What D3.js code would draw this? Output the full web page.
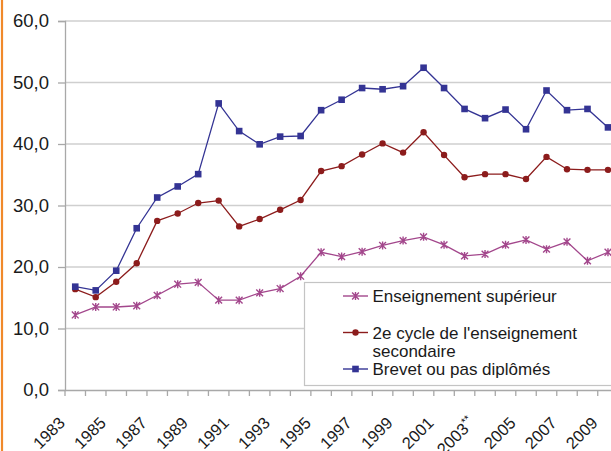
<!DOCTYPE html>
<html><head><meta charset="utf-8">
<script src="https://cdn.jsdelivr.net/npm/d3@7/dist/d3.min.js"></script>
<style>
html,body{margin:0;padding:0;background:#fff;}
svg{display:block;font-family:"Liberation Sans",Arial,sans-serif;}
</style></head><body>
<svg id="c" width="611" height="451"></svg>
<script>
const years = d3.range(1983, 2011);
const dataYears = d3.range(1983, 2010);
const superieur = [12.2,13.5,13.5,13.7,15.4,17.2,17.5,14.6,14.6,15.8,16.5,18.5,22.4,21.7,22.5,23.5,24.3,24.9,23.6,21.8,22.1,23.6,24.4,22.9,24.1,21.0,22.4];
const secondaire = [16.4,15.1,17.6,20.6,27.5,28.7,30.4,30.8,26.6,27.8,29.3,30.9,35.6,36.4,38.3,40.1,38.6,41.9,38.2,34.6,35.1,35.1,34.3,37.9,35.9,35.8,35.8];
const brevet = [16.8,16.2,19.4,26.3,31.3,33.1,35.1,46.6,42.1,39.95,41.2,41.3,45.5,47.2,49.1,48.9,49.4,52.4,49.1,45.7,44.2,45.6,42.4,48.7,45.5,45.7,42.7];
const yTicks = [0,10,20,30,40,50,60];
const labelYears = [1983,1985,1987,1989,1991,1993,1995,1997,1999,2001,2003,2005,2007,2009];
const yearLabel = {2003: "2003**"};
const seriesNames = ["Enseignement supérieur", "2e cycle de l'enseignement|secondaire", "Brevet ou pas diplômés"];

const svg = d3.select("#c");
const x = d3.scaleBand().domain(years).range([65, 65 + 28*20.49]).padding(0);
const y = d3.scaleLinear().domain([0,60]).range([390,21]);
const fmt = v => d3.format(".1f")(v).replace(".", ",");

// orange left border
svg.append("line").attr("x1",2).attr("x2",2).attr("y1",0).attr("y2",451)
  .attr("stroke","#f0892a").attr("stroke-width",2.2);

// grid
svg.append("g").selectAll("line").data(yTicks.filter(d=>d>0)).join("line")
  .attr("x1",65).attr("x2",611).attr("y1",d=>y(d)).attr("y2",d=>y(d))
  .attr("stroke","#cfcfcf").attr("stroke-width",1.3);

// y axis
const yAxis = d3.axisLeft(y).tickValues(yTicks).tickSize(7).tickFormat(fmt).tickPadding(9);
const gy = svg.append("g").attr("transform","translate(65,0)").call(yAxis);
gy.select(".domain").attr("stroke","#a8a8a8").attr("stroke-width",1.3);
gy.selectAll(".tick line").attr("stroke","#a8a8a8").attr("stroke-width",1.3);
gy.selectAll(".tick text").attr("font-size",18.5).attr("fill","#1a1a1a").attr("font-family","Liberation Sans, Arial, sans-serif");

// x axis
const xAxis = d3.axisBottom(x).tickSize(0).tickFormat("");
const gx = svg.append("g").attr("transform","translate(0,390)").call(xAxis);
gx.select(".domain").attr("stroke","#a8a8a8").attr("stroke-width",1.3);
svg.append("g").selectAll("line").data(years).join("line")
  .attr("x1",d=>x(d)).attr("x2",d=>x(d)).attr("y1",390).attr("y2",396)
  .attr("stroke","#a8a8a8").attr("stroke-width",1.3);
const xl = svg.append("g").selectAll("text").data(labelYears).join("text")
  .attr("transform",d=>`translate(${x(d)+1},${424}) rotate(-45)`)
  .attr("text-anchor","end").attr("font-size",16.5).attr("fill","#1a1a1a");
xl.each(function(d){
  const t = d3.select(this);
  if (yearLabel[d]) {
    t.append("tspan").text("2003");
    t.append("tspan").text("**").attr("font-size",11).attr("dy",-6);
  } else t.text(d);
});

// series
const series = [
  {name:"sup", vals:superieur, color:"#a3478c", marker:"star"},
  {name:"sec", vals:secondaire, color:"#8c1c1c", marker:"circle"},
  {name:"brev", vals:brevet, color:"#343494", marker:"square"}
];
const cx = yr => x(yr) + x.bandwidth()/2;
function drawMarker(g, type, px, py, color){
  if (type==="square") {
    g.append("rect").attr("x",px-3.3).attr("y",py-3.3).attr("width",6.6).attr("height",6.6).attr("fill",color);
  } else if (type==="circle") {
    g.append("circle").attr("cx",px).attr("cy",py).attr("r",3.2).attr("fill",color);
  } else {
    const s=3.4;
    g.append("path").attr("d",`M${px-s},${py-s}L${px+s},${py+s}M${px-s},${py+s}L${px+s},${py-s}M${px},${py-s-0.6}L${px},${py+s+0.6}`)
      .attr("stroke",color).attr("stroke-width",1.4).attr("fill","none");
  }
}
series.forEach(s=>{
  const pts = dataYears.map((yr,i)=>[cx(yr), y(s.vals[i])]);
  svg.append("path").attr("d", d3.line()(pts)).attr("fill","none").attr("stroke",s.color).attr("stroke-width",1.3);
  const g = svg.append("g");
  pts.forEach(p=>drawMarker(g, s.marker, p[0], p[1], s.color));
});

// legend
const lg = svg.append("g");
lg.append("rect").attr("x",304.5).attr("y",282.5).attr("width",330).attr("height",103)
  .attr("fill","#fff").attr("stroke","#c4c4c4").attr("stroke-width",1.2);
const rows = [
  {y:296, base:[301.5], lines:["Enseignement supérieur"]},
  {y:332.5, base:[338.5,356.5], lines:["2e cycle de l'enseignement","secondaire"]},
  {y:369, base:[374.5], lines:["Brevet ou pas diplômés"]}
];
rows.forEach((r,i)=>{
  const s = series[i];
  lg.append("line").attr("x1",343).attr("x2",368).attr("y1",r.y).attr("y2",r.y).attr("stroke",s.color).attr("stroke-width",1.4);
  drawMarker(lg, s.marker, 355.5, r.y, s.color);
  const parts = seriesNames[i].split("|");
  parts.forEach((t,j)=>{
    lg.append("text").attr("x",372.5).attr("y",r.base[j]).attr("font-size",17).attr("fill","#1a1a1a").text(t);
  });
});
</script>
</body></html>
